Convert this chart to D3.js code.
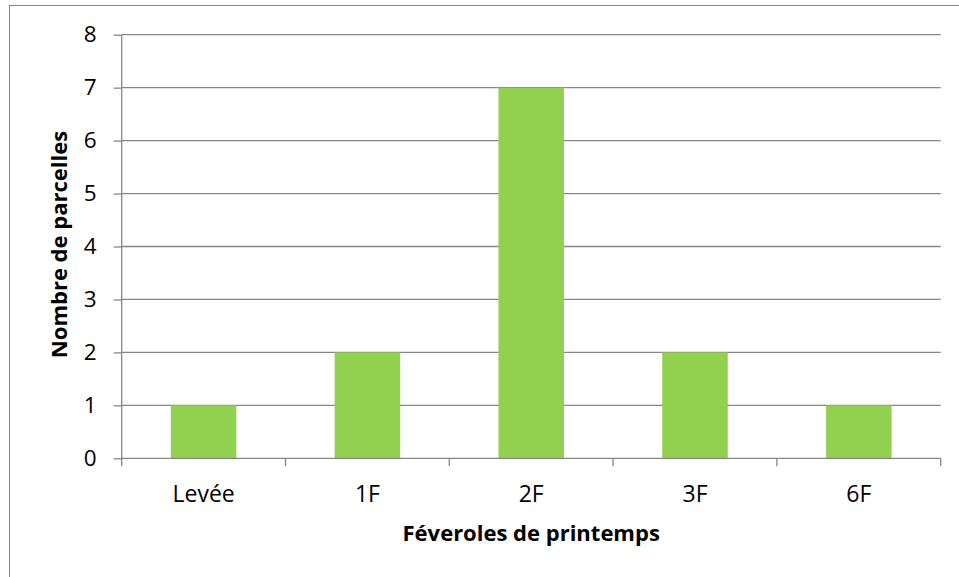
<!DOCTYPE html>
<html>
<head>
<meta charset="utf-8">
<script src="https://cdn.jsdelivr.net/npm/d3@7"></script>
<style>
  html, body { margin: 0; padding: 0; background: #ffffff; }
  svg { display: block; }
</style>
</head>
<body>
<svg id="chart" width="959" height="577"></svg>
<script>
const categories = ["Levée", "1F", "2F", "3F", "6F"];
const values = [1, 2, 7, 2, 1];
const yTicks = [0, 1, 2, 3, 4, 5, 6, 7, 8];
const xTitle = "Féveroles de printemps";
const yTitle = "Nombre de parcelles";

const W = 959, H = 577;
const plot = { left: 121.7, right: 940.7, top: 34.7, bottom: 458.3 };
const FONT = "'Open Sans', sans-serif";
const gridColor = "#868686";
const barColor = "#92D050";

const svg = d3.select("#chart");

// outer chart border (only left and top visible)
svg.append("rect")
  .attr("x", 9.5).attr("y", 5.5)
  .attr("width", W + 10).attr("height", H + 10)
  .attr("fill", "#ffffff")
  .attr("stroke", "#868686").attr("stroke-width", 1);

const x = d3.scaleBand().domain(categories).range([plot.left, plot.right]).paddingInner(0).paddingOuter(0);
const y = d3.scaleLinear().domain([0, 8]).range([plot.bottom, plot.top]);

// gridlines
svg.append("g").selectAll("line").data(yTicks.filter(d => d > 0)).join("line")
  .attr("x1", plot.left).attr("x2", plot.right)
  .attr("y1", d => y(d)).attr("y2", d => y(d))
  .attr("stroke", gridColor).attr("stroke-width", 1.3);

// bars (gap width 150% => bar is 40% of the band)
const barFrac = 0.4;
svg.append("g").selectAll("rect").data(values).join("rect")
  .attr("x", (d, i) => x(categories[i]) + x.bandwidth() * (1 - barFrac) / 2)
  .attr("width", x.bandwidth() * barFrac)
  .attr("y", d => y(d))
  .attr("height", d => y(0) - y(d))
  .attr("fill", barColor);

// y axis
const yAxis = d3.axisLeft(y).tickValues(yTicks).tickSize(8).tickPadding(17).tickFormat(d3.format("d"));
const gy = svg.append("g").attr("transform", `translate(${plot.left},0)`).call(yAxis);
gy.select(".domain").attr("stroke", gridColor).attr("stroke-width", 1.3).attr("d", `M0,${plot.top}V${plot.bottom}`);
gy.selectAll(".tick line").attr("stroke", gridColor).attr("stroke-width", 1.3);
gy.selectAll(".tick text").attr("font-family", FONT).attr("font-size", 22.5).attr("fill", "#000");

// x axis with ticks at band boundaries
const xAxisG = svg.append("g").attr("transform", `translate(0,${plot.bottom})`);
xAxisG.append("line").attr("x1", plot.left).attr("x2", plot.right).attr("y1", 0).attr("y2", 0)
  .attr("stroke", gridColor).attr("stroke-width", 1.3);
const boundaries = categories.map(c => x(c)).concat([x(categories[categories.length - 1]) + x.bandwidth()]);
xAxisG.selectAll("line.tk").data(boundaries).join("line").attr("class", "tk")
  .attr("x1", d => d).attr("x2", d => d).attr("y1", 0).attr("y2", 8)
  .attr("stroke", gridColor).attr("stroke-width", 1.3);
xAxisG.selectAll("text").data(categories).join("text")
  .attr("x", d => x(d) + x.bandwidth() / 2)
  .attr("y", 43.5)
  .attr("text-anchor", "middle")
  .attr("font-family", FONT).attr("font-size", 23).attr("fill", "#000")
  .text(d => d);

// axis titles
svg.append("text")
  .attr("x", (plot.left + plot.right) / 2).attr("y", 541)
  .attr("text-anchor", "middle")
  .attr("font-family", FONT).attr("font-weight", "bold").attr("font-size", 22).attr("fill", "#000")
  .text(xTitle);
svg.append("text")
  .attr("transform", `translate(67,${(plot.top + plot.bottom) / 2 - 2}) rotate(-90)`)
  .attr("text-anchor", "middle")
  .attr("font-family", FONT).attr("font-weight", "bold").attr("font-size", 22).attr("fill", "#000")
  .text(yTitle);
</script>
</body>
</html>
